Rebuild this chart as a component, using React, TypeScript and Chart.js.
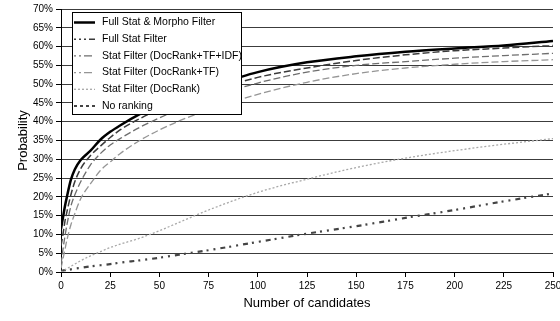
import React, { useEffect, useRef } from "react";
import { Chart, registerables } from "chart.js";

Chart.register(...registerables);

const candidates = [0, 1, 2, 3, 5, 7, 10, 15, 20, 25, 30, 40, 50, 60, 75, 100, 125, 150, 175, 200, 225, 250];
const fullStatMorpho = [11.5, 14.5, 17.5, 20, 24.5, 27.3, 29.8, 32.3, 35.2, 37.3, 39, 42, 44.5, 46.5, 49.2, 53.2, 55.8, 57.4, 58.6, 59.5, 60.3, 61.5];
const fullStat = [7, 10, 13.5, 16, 20.5, 24, 27.5, 31, 33.5, 35.8, 37.8, 40.8, 43.3, 45.3, 48, 51.8, 54.3, 56.3, 57.8, 58.9, 59.6, 60.3];
const statTfIdf = [2, 6, 9.5, 12.5, 17.5, 20.5, 24, 28.5, 31.5, 33.8, 35.5, 38.5, 41, 43.3, 46.3, 50.3, 53.2, 55, 56, 56.9, 57.6, 58.2];
const statTf = [1, 3.5, 6, 8.5, 12.5, 15.5, 19.5, 23.5, 27, 29.3, 31.5, 35, 37.8, 40.2, 43.2, 47.3, 50.5, 52.8, 54.3, 55.3, 56, 56.5];
const statDocRank = [0, 0.3, 0.6, 0.9, 1.5, 2.1, 3, 4.3, 5.4, 6.5, 7.4, 9, 11, 13.2, 16.5, 21.2, 24.7, 27.8, 30.3, 32.3, 34, 35.5];
const noRanking = [0.3, 0.4, 0.5, 0.5, 0.7, 0.9, 1.1, 1.5, 1.8, 2.1, 2.5, 3.1, 3.8, 4.6, 5.8, 8, 10.2, 12.2, 14.4, 16.5, 18.8, 20.9];

const seriesLabels = [
  "Full Stat & Morpho Filter",
  "Full Stat Filter",
  "Stat Filter (DocRank+TF+IDF)",
  "Stat Filter (DocRank+TF)",
  "Stat Filter (DocRank)",
  "No ranking",
];
const seriesValues = [fullStatMorpho, fullStat, statTfIdf, statTf, statDocRank, noRanking];

const styles = [
  { color: "#000000", width: 2.5, dash: [] as number[], legendDash: [] as number[] },
  { color: "#3a3a3a", width: 1.5, dash: [7, 3], legendDash: [2, 3, 2, 3, 2, 3, 8, 3] },
  { color: "#6e6e6e", width: 1.3, dash: [7, 3], legendDash: [2, 3, 2, 3, 8, 3] },
  { color: "#959595", width: 1.3, dash: [7, 3], legendDash: [2, 3, 2, 3, 8, 3] },
  { color: "#a8a8a8", width: 1.3, dash: [2, 2], legendDash: [2, 2] },
  { color: "#444444", width: 2.2, dash: [5, 4, 2, 5, 2, 5], legendDash: [3, 3, 3, 3, 3, 3, 8, 3] },
];

const FONT = "'Liberation Sans', Arial, Helvetica, sans-serif";

const legendBoxPlugin = {
  id: "legendBox",
  afterDatasetsDraw(chart: any) {
    const ctx = chart.ctx;
    const x0 = 72, y0 = 12, w = 169, h = 102;
    ctx.save();
    ctx.fillStyle = "#ffffff";
    ctx.fillRect(x0, y0, w, h);
    ctx.strokeStyle = "#000000";
    ctx.lineWidth = 1;
    ctx.strokeRect(x0 + 0.5, y0 + 0.5, w, h);
    ctx.font = "10.5px " + FONT;
    ctx.textBaseline = "middle";
    ctx.textAlign = "left";
    seriesLabels.forEach((label, i) => {
      const y = 22.5 + i * 16.7;
      const s = styles[i];
      ctx.beginPath();
      ctx.setLineDash(s.legendDash);
      ctx.strokeStyle = s.color;
      ctx.lineWidth = s.width;
      ctx.moveTo(74, y);
      ctx.lineTo(95, y);
      ctx.stroke();
      ctx.setLineDash([]);
      ctx.fillStyle = "#000000";
      ctx.fillText(label, 102, y);
    });
    ctx.restore();
  },
};

export default function App() {
  const ref = useRef<HTMLCanvasElement>(null);
  useEffect(() => {
    if (!ref.current) return;
    const chart = new Chart(ref.current, {
      type: "line",
      data: {
        datasets: seriesLabels.map((label, i) => ({
          label,
          data: candidates.map((c, j) => ({ x: c, y: seriesValues[i][j] })),
          borderColor: styles[i].color,
          borderWidth: styles[i].width,
          borderDash: styles[i].dash,
          pointRadius: 0,
          fill: false,
          cubicInterpolationMode: "monotone" as const,
        })),
      },
      options: {
        responsive: false,
        animation: false,
        layout: { padding: { top: 7, left: 0, right: 7, bottom: 0 } },
        plugins: { legend: { display: false }, tooltip: { enabled: false } },
        scales: {
          x: {
            type: "linear",
            min: 0,
            max: 250,
            ticks: { stepSize: 25, padding: 3, color: "#000", font: { family: FONT, size: 10 }, maxRotation: 0 },
            grid: { drawOnChartArea: false, drawTicks: true, tickLength: 5, color: "#000" },
            border: { color: "#000", width: 1 },
            title: { display: true, text: "Number of candidates", color: "#000", font: { family: FONT, size: 13 }, padding: { top: 0, bottom: 10 } },
            afterFit: (s: any) => { s.height = 49; s.paddingRight = 0; },
          },
          y: {
            min: 0,
            max: 70,
            ticks: { stepSize: 5, padding: 3, color: "#000", font: { family: FONT, size: 10 }, callback: (v: any) => v + "%" },
            grid: { color: "#3c3c3c", tickColor: "#000", tickLength: 5, lineWidth: 1 },
            border: { color: "#000", width: 1 },
            title: { display: true, text: "Probability", color: "#000", font: { family: FONT, size: 13 }, padding: { top: 16, bottom: 0 } },
            afterFit: (s: any) => { s.width = 61; },
          },
        },
      },
      plugins: [legendBoxPlugin],
    } as any);
    return () => chart.destroy();
  }, []);
  return (
    <div style={{ position: "fixed", left: 0, top: 0, width: 560, height: 321, background: "#fff" }}>
      <canvas ref={ref} width={560} height={321} style={{ display: "block" }} />
    </div>
  );
}
